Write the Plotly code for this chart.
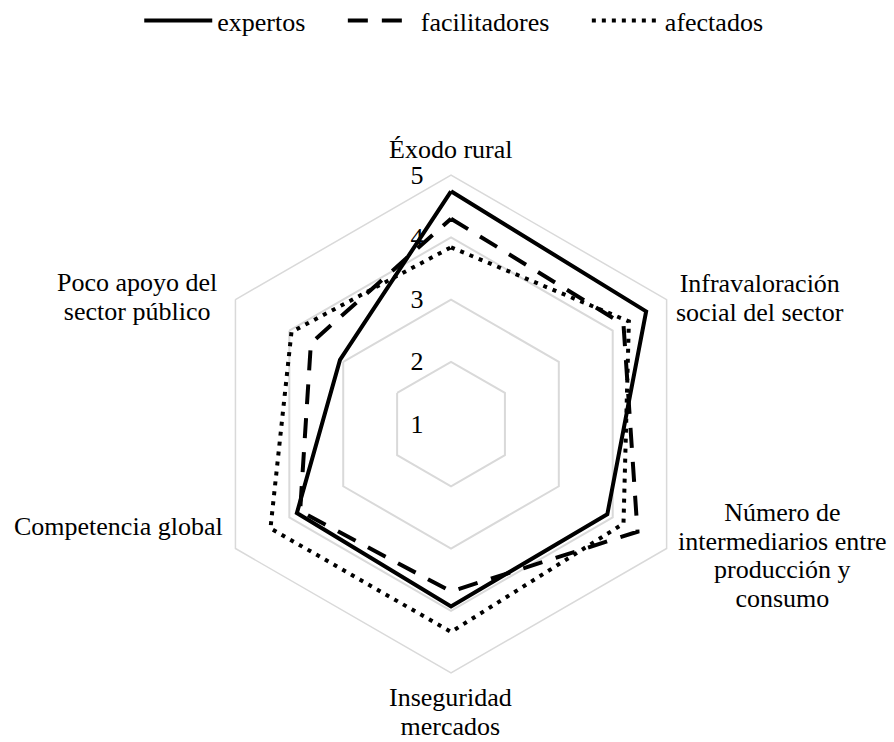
import plotly.graph_objects as go

# ---- data ----
categories = [
    "Éxodo rural",
    "Infravaloración social del sector",
    "Número de intermediarios entre producción y consumo",
    "Inseguridad mercados",
    "Competencia global",
    "Poco apoyo del sector público",
]
category_labels = [
    "Éxodo rural",
    "Infravaloración<br>social del sector",
    "Número de<br>intermediarios entre<br>producción y<br>consumo",
    "Inseguridad<br>mercados",
    "Competencia global",
    "Poco apoyo del<br>sector público",
]
expertos = [4.74, 4.62, 3.9, 3.93, 3.86, 3.06]
facilitadores = [4.3, 4.2, 4.46, 3.69, 3.8, 3.6]
afectados = [3.84, 4.3, 4.2, 4.34, 4.35, 3.96]
radial_ticks = [1, 2, 3, 4, 5]

# where the category labels sit (pixel centres in the 894x742 page)
label_pos = [(451, 150), (760, 298), (782, 555), (451, 712), (118, 526), (137, 297)]

W, H = 894, 742
FONT = "Times New Roman, Liberation Serif, DejaVu Serif, serif"
GRID = "#d9d9d9"
PAD = "\u00a0" * 5


def closed(vals):
    return vals + vals[:1]


def tight(label):
    # glyphs at 26px, line spacing taken from the smaller base font size
    return "<br>".join(f'<span style="font-size:26px">{ln}</span>' for ln in label.split("<br>"))


fig = go.Figure()
series = [
    ("expertos", expertos, "solid"),
    ("facilitadores", facilitadores, "20px,14px"),
    ("afectados", afectados, "4px,6px"),
]
for name, vals, dash in series:
    fig.add_trace(go.Scatterpolar(
        r=closed(vals), theta=closed(categories), name=name + PAD, mode="lines",
        line=dict(color="black", width=4, dash=dash),
    ))

for text, (px, py) in zip(category_labels, label_pos):
    fig.add_annotation(
        text=tight(text), x=px / W, y=1 - py / H, xref="paper", yref="paper",
        xanchor="center", yanchor="middle", align="center", showarrow=False,
        font=dict(size=22, family=FONT, color="black"),
    )

fig.update_layout(
    width=W, height=H,
    paper_bgcolor="white", plot_bgcolor="white",
    margin=dict(l=0, r=0, t=0, b=0, autoexpand=False),
    font=dict(family=FONT, size=26, color="black"),
    legend=dict(orientation="h", x=0.526, xanchor="center", y=1.004, yanchor="top",
                font=dict(size=26, family=FONT), itemwidth=68),
    polar=dict(
        domain=dict(x=[0.226, 0.783], y=[0.093, 0.764]),
        gridshape="linear",
        bgcolor="white",
        radialaxis=dict(range=[1, 5], tickvals=radial_ticks, angle=90, side="counterclockwise",
                        tickangle=90, showline=False, ticks="outside", ticklen=18,
                        tickcolor="rgba(0,0,0,0)",
                        gridcolor=GRID, gridwidth=1.5,
                        tickfont=dict(size=26, family=FONT)),
        angularaxis=dict(direction="clockwise", rotation=90, showgrid=False,
                         showticklabels=False, linecolor=GRID, linewidth=1.5, ticks=""),
    ),
)

# drop the browser's default 8px body margin so the figure sits at the page corner
fig.write_html("out.html", config={"displayModeBar": False},
               post_script="document.body.style.margin='0';")
